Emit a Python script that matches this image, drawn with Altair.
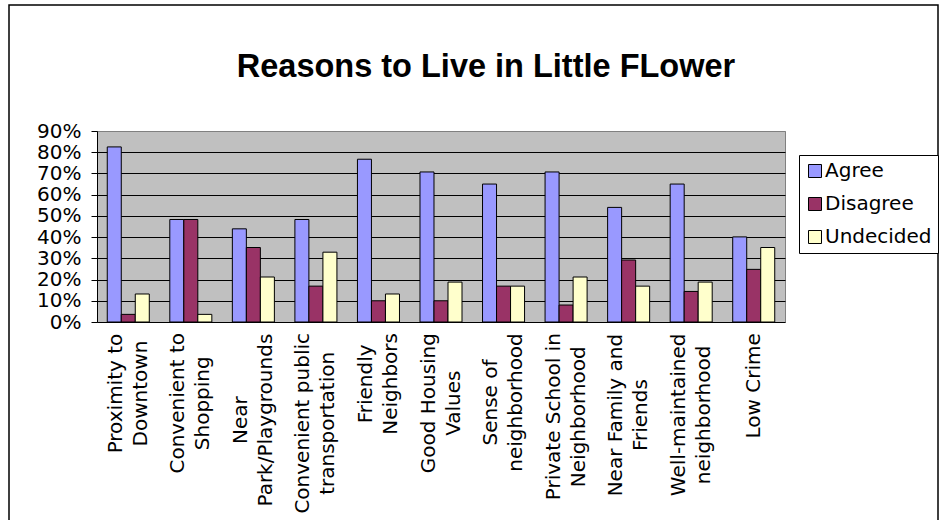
import altair as alt
import pandas as pd

# ---- data ----
label_lines = [
    ["Proximity to", "Downtown"],
    ["Convenient to", "Shopping"],
    ["Near", "Park/Playgrounds"],
    ["Convenient public", "transportation"],
    ["Friendly", "Neighbors"],
    ["Good Housing", "Values"],
    ["Sense of", "neighborhood"],
    ["Private School in", "Neighborhood"],
    ["Near Family and", "Friends"],
    ["Well-maintained", "neighborhood"],
    ["Low Crime"],
]
series = ["Agree", "Disagree", "Undecided"]
agree = [0.825, 0.483, 0.439, 0.483, 0.767, 0.707, 0.650, 0.707, 0.540, 0.650, 0.401]
disagree = [0.036, 0.483, 0.351, 0.169, 0.100, 0.100, 0.169, 0.080, 0.292, 0.144, 0.248]
undecided = [0.132, 0.036, 0.212, 0.329, 0.132, 0.188, 0.169, 0.212, 0.169, 0.188, 0.351]
colors = ["#9999FF", "#993366", "#FFFFCC"]
title_text = "Reasons to Live in Little FLower"

FONT = "DejaVu Sans"
LABEL_SIZE = 20
LINE_H = 25

# approximate DejaVu Sans advance widths (em), used to start every label just below the axis
W = {" ": .318, "A": .684, "C": .698, "D": .770, "F": .575, "G": .775, "H": .752, "L": .557,
     "N": .748, "P": .603, "S": .635, "V": .684, "W": .989, "a": .613, "b": .635, "c": .550,
     "d": .635, "e": .615, "f": .352, "g": .635, "h": .634, "i": .278, "k": .579, "l": .278,
     "m": .974, "n": .634, "o": .612, "p": .635, "r": .411, "s": .521, "t": .392, "u": .634,
     "v": .592, "w": .818, "x": .592, "y": .592, "/": .337, "-": .361}


def width(s):
    return sum(W.get(c, 0.6) for c in s)


cats = [" ".join(l) for l in label_lines]

rows = []
for i, c in enumerate(cats):
    for s, vals in zip(series, [agree, disagree, undecided]):
        rows.append({"cat": c, "series": s, "value": vals[i]})
df = pd.DataFrame(rows)

label_df = pd.DataFrame({
    "cat": cats,
    "lines": label_lines,
    "n": [len(l) for l in label_lines],
    "ypx": [202 + max(width(x) for x in l) * LABEL_SIZE / 2 for l in label_lines],
})

bars = alt.Chart(df).mark_bar(stroke="black", strokeWidth=1).encode(
    x=alt.X("cat:N", sort=cats,
            scale=alt.Scale(paddingInner=0.328, paddingOuter=0.164),
            axis=alt.Axis(title=None, labels=False, tickBand="extent", tickSize=6,
                          tickColor="black", domainColor="black", grid=False)),
    xOffset=alt.XOffset("series:N", sort=series, scale=alt.Scale(paddingInner=0, paddingOuter=0)),
    y=alt.Y("value:Q", scale=alt.Scale(domain=[0, 0.9], nice=False),
            axis=alt.Axis(title=None, format="%", values=[i / 10 for i in range(10)],
                          labelFont=FONT, labelFontSize=LABEL_SIZE, labelColor="black",
                          tickColor="black", tickSize=6, labelPadding=10,
                          domainColor="black", gridOpacity=1,
                          gridColor={"condition": {"test": "datum.value > 0.85",
                                                   "value": "#808080"},
                                     "value": "black"})),
    color=alt.Color("series:N", sort=series,
                    scale=alt.Scale(domain=series, range=colors),
                    legend=alt.Legend(title=None, orient="none", legendX=702, legendY=24,
                                      fillColor="white", strokeColor="black", padding=6,
                                      labelFont=FONT, labelFontSize=LABEL_SIZE, labelColor="black",
                                      symbolType="square", symbolSize=169,
                                      symbolStrokeColor="black", symbolStrokeWidth=1,
                                      rowPadding=13, labelOffset=0)),
)


def label_layer(nlines, shift):
    return alt.Chart(label_df).transform_filter(f"datum.n == {nlines}").mark_text(
        font=FONT, fontSize=LABEL_SIZE, angle=270, align="center", baseline="middle",
        lineHeight=LINE_H, color="black", dy=shift
    ).encode(
        x=alt.X("cat:N", sort=cats, axis=None),
        y=alt.Y("ypx:Q", scale=alt.Scale(domain=[0, 191], range=[0, 191]), axis=None),
        text=alt.Text("lines:N"),
    )


xlabels2 = label_layer(2, -LINE_H / 2)
xlabels1 = label_layer(1, 0)

border = alt.Chart(pd.DataFrame({"a": [0]})).mark_rect(
    fillOpacity=0, stroke="black", strokeWidth=1.5
).encode(x=alt.value(-88), x2=alt.value(841), y=alt.value(-126), y2=alt.value(430))

title = alt.Chart(pd.DataFrame({"t": [title_text]})).mark_text(
    font="Liberation Sans", fontWeight="bold", fontSize=32.5, align="center",
    baseline="alphabetic", color="black"
).encode(x=alt.value(389), y=alt.value(-54), text="t:N")

chart = alt.layer(border, bars, xlabels2, xlabels1, title).resolve_scale(y="independent").properties(
    width=688, height=191,
    autosize="none",
    padding={"left": 97, "top": 131, "right": 158, "bottom": 198},
    background="white",
).configure_view(fill="#C0C0C0", stroke="#808080")

chart.save("out.html", embed_options={"renderer": "svg", "actions": False})
